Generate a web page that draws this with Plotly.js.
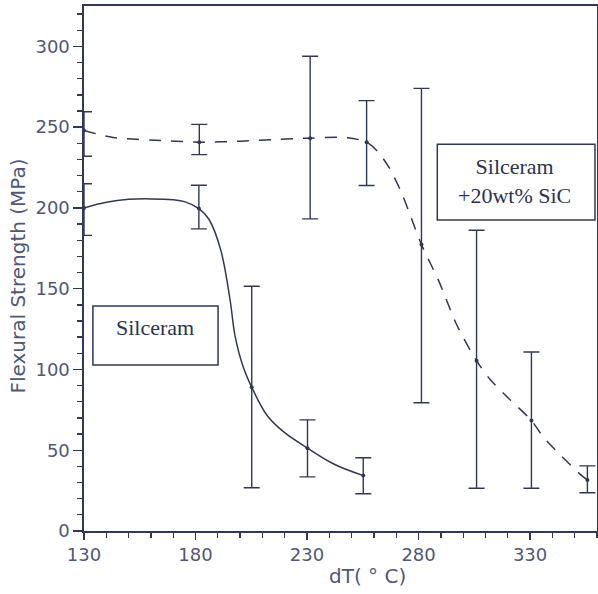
<!DOCTYPE html>
<html>
<head>
<meta charset="utf-8">
<script src="https://cdn.plot.ly/plotly-3.0.1.min.js"></script>
<style>html,body{margin:0;padding:0;background:#fff;}#chart{width:598px;height:594px;}</style>
</head>
<body>
<div id="chart"></div>
<script>
// ---- data ----
// Silceram (solid curve) measured points
const silX = [130, 181.5, 205.2, 230.2, 255.2];
const silY = [200, 199.6, 89, 51.3, 34.3];
const silTop = [215, 214, 151.5, 68.8, 45.3];
const silBottom = [183, 187, 26.8, 33.5, 23.1];
// Silceram fitted curve
const silCurveX = [130, 140, 150, 160, 170, 175, 181.5, 186, 191.3, 195.5, 197.7, 201.4, 205.2, 212.1, 219.4, 230.2, 242.2, 255.2];
const silCurveY = [200, 203.5, 205.3, 205.6, 205, 203.9, 199.6, 193, 174, 143, 121, 101.5, 89, 71.5, 61.5, 51.3, 41.3, 34.3];

// Silceram + 20wt% SiC (dashed curve) measured points
const sicX = [130, 181.7, 231.4, 256.7, 281.3, 306, 330.6, 355.7];
const sicY = [248, 240.7, 243.2, 240.7, 177.3, 105.4, 68.4, 31.6];
const sicTop = [259.5, 251.7, 293.9, 266.4, 274, 186.2, 110.8, 40.3];
const sicBottom = [232, 233, 193.2, 213.9, 79.4, 26.5, 26.5, 23.7];
// dashed fitted curve
const sicCurveX = [130, 143, 167, 181.7, 200, 215, 231.4, 248, 256.7, 261.6, 266.8, 272, 275.4, 281.3, 289, 297, 306, 312, 320, 330.6, 336, 344, 352, 355.7];
const sicCurveY = [248, 243.6, 241.6, 240.7, 241.3, 242.3, 243.2, 243.5, 240.7, 235, 225, 210.5, 198.7, 177.3, 155, 128, 105.4, 94, 82.6, 68.4, 58, 46.5, 35.7, 31.6];

const xTickVals = [130, 180, 230, 280, 330];
const yTickVals = [0, 50, 100, 150, 200, 250, 300];

const labelSil = 'Silceram';
const labelSic = 'Silceram<br>+20wt% SiC';
const xTitle = 'dT( \u00b0 C)';
const yTitle = 'Flexural Strength (MPa)';

// ---- styling ----
const ink = '#313854';
const txt = '#4f5878';
const sansFont = 'DejaVu Sans, sans-serif';
const serifFont = 'Liberation Serif, Times New Roman, serif';

const up = (top, y) => top.map((t, i) => t - y[i]);
const dn = (bot, y) => bot.map((b, i) => y[i] - b);

const traces = [
  {x: silCurveX, y: silCurveY, mode: 'lines', line: {color: ink, width: 1.5, shape: 'spline', smoothing: 1}, hoverinfo: 'skip', cliponaxis: false},
  {x: sicCurveX, y: sicCurveY, mode: 'lines', line: {color: ink, width: 1.5, dash: '12px,10px', shape: 'spline', smoothing: 0.8}, hoverinfo: 'skip', cliponaxis: false},
  {x: silX, y: silY, mode: 'markers', marker: {color: ink, size: 4},
   error_y: {type: 'data', symmetric: false, array: up(silTop, silY), arrayminus: dn(silBottom, silY), color: ink, thickness: 1.4, width: 8},
   cliponaxis: false},
  {x: sicX, y: sicY, mode: 'markers', marker: {color: ink, size: 4},
   error_y: {type: 'data', symmetric: false, array: up(sicTop, sicY), arrayminus: dn(sicBottom, sicY), color: ink, thickness: 1.4, width: 8},
   cliponaxis: false}
];

const layout = {
  width: 598, height: 594,
  margin: {l: 84, r: 1, t: 6, b: 63},
  paper_bgcolor: '#ffffff', plot_bgcolor: '#ffffff',
  showlegend: false,
  font: {family: sansFont, color: txt},
  xaxis: {
    range: [130, 360], showgrid: false, zeroline: false,
    showline: true, linecolor: ink, linewidth: 1.6, mirror: true,
    tickmode: 'array', tickvals: xTickVals, ticks: 'outside', ticklen: 7, tickwidth: 1.4, tickcolor: ink,
    minor: {dtick: 10, tick0: 130, ticks: 'outside', ticklen: 5, tickwidth: 1.3, tickcolor: ink, showgrid: false},
    tickfont: {family: sansFont, size: 18, color: txt}
  },
  yaxis: {
    range: [0, 325], showgrid: false, zeroline: false,
    showline: true, linecolor: ink, linewidth: 1.6, mirror: true,
    tickmode: 'array', tickvals: yTickVals, ticks: 'outside', ticklen: 9, tickwidth: 1.4, tickcolor: ink,
    minor: {dtick: 10, tick0: 0, ticks: 'outside', ticklen: 5, tickwidth: 1.3, tickcolor: ink, showgrid: false},
    tickfont: {family: sansFont, size: 18, color: txt}
  },
  shapes: [
    {type: 'rect', xref: 'x', yref: 'y', x0: 134.0, x1: 190.1, y0: 102.8, y1: 139.3, line: {color: ink, width: 1.5}},
    {type: 'rect', xref: 'x', yref: 'y', x0: 288.4, x1: 359.1, y0: 192.5, y1: 239.4, line: {color: ink, width: 1.5}}
  ],
  annotations: [
    {xref: 'x', yref: 'y', x: 161.7, y: 126, text: labelSil, showarrow: false, xanchor: 'center', yanchor: 'middle',
     font: {family: serifFont, size: 22, color: '#2c3350'}},
    {xref: 'x', yref: 'y', x: 323.2, y: 216.6, text: labelSic, showarrow: false, xanchor: 'center', yanchor: 'middle', align: 'center',
     font: {family: serifFont, size: 22, color: '#2c3350'}},
    {xref: 'paper', yref: 'paper', x: (367.5 - 84) / 513, y: -(576 - 531) / 525, text: xTitle, showarrow: false,
     xanchor: 'center', yanchor: 'middle', font: {family: sansFont, size: 20, color: txt}},
    {xref: 'paper', yref: 'paper', x: -(84 - 17.5) / 513, y: (531 - 276) / 525, text: yTitle, showarrow: false, textangle: -90,
     xanchor: 'center', yanchor: 'middle', font: {family: sansFont, size: 20, color: txt}}
  ]
};

Plotly.newPlot('chart', traces, layout, {displayModeBar: false, staticPlot: true});
</script>
</body>
</html>
